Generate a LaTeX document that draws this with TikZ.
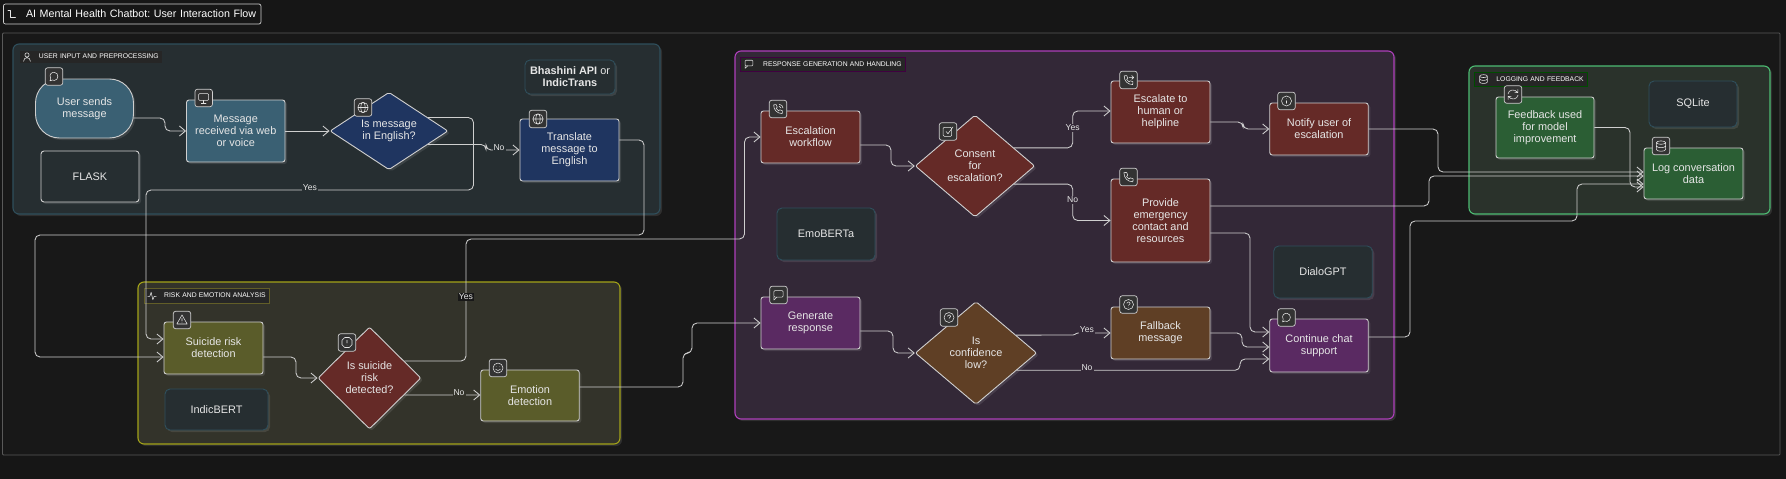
\documentclass[tikz,border=0pt]{standalone}
\usepackage{fontspec}
\setmainfont{Liberation Sans}
\usepackage{xcolor}
\usetikzlibrary{arrows.meta,shapes.geometric,shadows}
\definecolor{bgdark}{HTML}{161616}
\definecolor{framefill}{HTML}{181818}
\definecolor{txtlight}{HTML}{E6E6E6}
\definecolor{linelight}{HTML}{CFCFCF}
\definecolor{toolfill}{HTML}{262E31}
\definecolor{toolline}{HTML}{2F4F5C}
\definecolor{tealfill}{HTML}{3A6073}
\definecolor{navyfill}{HTML}{1F3560}
\definecolor{olivefill}{HTML}{5A5C2A}
\definecolor{redfill}{HTML}{652A27}
\definecolor{brownfill}{HTML}{5F3F25}
\definecolor{purplefill}{HTML}{5A2A62}
\definecolor{greenfill}{HTML}{2B5E34}
\definecolor{grpteal}{HTML}{262E31}
\definecolor{grpolive}{HTML}{33332A}
\definecolor{grppurple}{HTML}{332837}
\definecolor{grpgreen}{HTML}{2A322B}
\definecolor{lineolive}{HTML}{A3A318}
\definecolor{linepurple}{HTML}{AE3FBB}
\definecolor{linegreen}{HTML}{4DBB73}
\tikzset{softshadow/.style={drop shadow={shadow xshift=2pt,shadow yshift=-2pt,fill=white,opacity=.1}},
    grp/.style={draw=#1,line width=1.1pt,rounded corners=6pt,softshadow,inner sep=0pt},
    grplabel/.style={draw=#1,fill=black!85!white,line width=.4pt,text=white,inner sep=0pt,
        font=\fontsize{6.8}{8}\selectfont,anchor=west},
    box/.style={fill=#1,draw=linelight,line width=.9pt,rounded corners=2.5pt,softshadow,inner sep=0pt,
        text=txtlight,align=center,font=\fontsize{10.9}{12}\selectfont},
    decision/.style={box=#1,diamond,rounded corners=2pt},
    tool/.style={fill=toolfill,draw=toolline,line width=.9pt,rounded corners=5pt,softshadow,inner sep=0pt,
        text=txtlight,align=center,font=\fontsize{10.9}{12}\selectfont},
    iconbox/.style={fill=black!80!white,draw=linelight,line width=.7pt,rounded corners=2.5pt,
        minimum width=17.5pt,minimum height=17.5pt,inner sep=0pt},
    glyph/.style={draw=txtlight,line width=.55pt,line cap=round,line join=round},
    flow/.style={draw=linelight,line width=.85pt,rounded corners=5pt,-{Straight Barb[length=6pt,width=10pt]}},
    elabel/.style={text=txtlight,inner sep=1pt,font=\fontsize{8.6}{10}\selectfont},
    glchat/.pic={\draw[glyph] (-4,4.3) -- (-3.3,1.9) .. controls (-5.6,-2.4) and (-1.6,-4.6) .. (.4,-4.2)
        .. controls (5,-3.6) and (5,3.6) .. (.4,4) .. controls (-.6,4) and (-1.2,3.7) .. (-1.5,3.5) -- cycle;},
    glmsgsq/.pic={\draw[glyph,rounded corners=1pt] (-4.6,-4.4) rectangle (4.6,2.2);
        \draw[glyph] (-4.6,2) -- (-4.6,5) -- (-1.6,2.2);},
    glmonitor/.pic={\draw[glyph,rounded corners=1pt] (-5,-4.4) rectangle (5,2.4);
        \draw[glyph] (0,2.4) -- (0,4.8) (-2.4,4.8) -- (2.4,4.8);},
    glglobe/.pic={\draw[glyph] (0,0) circle[radius=5.2pt] (0,0) ellipse[x radius=2.3pt,y radius=5.2pt] (-5.2,0) -- (5.2,0);},
    glwarn/.pic={\draw[glyph] (0,-5) -- (5.2,4) -- (-5.2,4) -- cycle (0,-1.6) -- (0,1) (0,2.6) -- (0,2.7);},
    gloct/.pic={\draw[glyph] (-2.2,-5) -- (2.2,-5) -- (5,-2.2) -- (5,2.2) -- (2.2,5) -- (-2.2,5) -- (-5,2.2) -- (-5,-2.2) -- cycle
        (0,-2.4) -- (0,.6) (0,2.6) -- (0,2.7);},
    glsmile/.pic={\draw[glyph] (0,0) circle[radius=5pt] (-1.8,-1.4) -- (-1.8,-1.3) (1.8,-1.4) -- (1.8,-1.3)
        (-2.4,1.2) .. controls (-1,3) and (1,3) .. (2.4,1.2);},
    glphone/.pic={\draw[glyph] (-4.6,-4.4) .. controls (-4.6,1) and (-1,4.8) .. (4.4,4.8) -- (4.6,1.8) -- (1.8,.8)
        -- (.6,2) .. controls (-.6,1.4) and (-1.4,.6) .. (-2,-.6) -- (-.8,-1.8) -- (-1.8,-4.6) -- cycle;},
    glphonein/.pic={\pic[scale=.95] {glphone}; \draw[glyph] (1,-4.8) .. controls (3.4,-4.6) and (4.8,-3) .. (5,-1)
        (1,-2.8) .. controls (2.2,-2.6) and (2.9,-2) .. (3,-1);},
    glphoneout/.pic={\pic[scale=.95] {glphone}; \draw[glyph] (.6,-2.6) -- (5,-2.6) (3.2,-4.6) -- (5.2,-2.6) -- (3.2,-.6);},
    glcheck/.pic={\draw[glyph,rounded corners=1pt] (-4.8,-4.2) rectangle (3.6,4.8);
        \draw[glyph] (-2,0) -- (0,2.2) -- (5,-4.6);},
    glinfo/.pic={\draw[glyph] (0,0) circle[radius=5pt] (0,-.4) -- (0,2.4) (0,-2.4) -- (0,-2.3);},
    glhelp/.pic={\draw[glyph] (0,0) circle[radius=5pt] (-1.6,-1.4) .. controls (-1.4,-3.2) and (1.8,-3.2) .. (1.7,-1.2)
        .. controls (1.6,-.2) and (0,0) .. (0,1) (0,2.6) -- (0,2.7);},
    glsync/.pic={\draw[glyph] (-5,-.6) .. controls (-4.4,-5) and (1.8,-6) .. (4.6,-2) (4.8,-5) -- (4.8,-1.8) -- (1.8,-1.8)
        (5,.6) .. controls (4.4,5) and (-1.8,6) .. (-4.6,2) (-4.8,5) -- (-4.8,1.8) -- (-1.8,1.8);},
    gldb/.pic={\draw[glyph] (0,-3.4) ellipse[x radius=4.6pt,y radius=1.7pt] (-4.6,-3.4) -- (-4.6,3.6)
        .. controls (-4,5.8) and (4,5.8) .. (4.6,3.6) -- (4.6,-3.4) (-4.6,0) .. controls (-4,2.2) and (4,2.2) .. (4.6,0);},
    gluser/.pic={\draw[glyph] (0,-2.4) circle[radius=2.5pt] (-4,5) .. controls (-4,-.6) and (4,-.6) .. (4,5);},
    glpulse/.pic={\draw[glyph] (-5,.4) -- (-2.6,.4) -- (-1,-4.4) -- (1,4.4) -- (2.6,.4) -- (5,.4);},
    glroute/.pic={\draw[glyph,line width=.7pt] (-4.5,-3.4) -- (-2,-3.4) -- (-2,3.6) -- (3,3.6);}}
\begin{document}
\frenchspacing
\begin{tikzpicture}[x=1pt,y=-1pt]
\useasboundingbox (0,0) rectangle (1786,479);
\fill[bgdark] (0,0) rectangle (1786,479);
\node[draw=black!65!white,fill=framefill,line width=.8pt,rounded corners=1pt,minimum width=1777.5pt,minimum height=422pt] (frame) at (891.3,244) {};
\node[draw=linelight,fill=bgdark,line width=.7pt,rounded corners=2pt,minimum width=257.5pt,minimum height=20pt,
    text=white,inner sep=0pt,font=\fontsize{10.7}{12}\selectfont,text width=250pt,align=right] (title) at (132.2,14) {AI Mental Health Chatbot: User Interaction Flow\hspace*{1pt}};
\pic at (12.5,14) {glroute};
\node[grp=toolline,fill=grpteal,minimum width=647pt,minimum height=170pt] (grpinput) at (336.5,129) {};
\node[grp=lineolive,fill=grpolive,minimum width=482pt,minimum height=162pt] (grprisk) at (379,363) {};
\node[grp=linepurple,fill=grppurple,minimum width=659pt,minimum height=368pt] (grpresp) at (1064.5,235) {};
\node[grp=linegreen,fill=grpgreen,minimum width=301pt,minimum height=148pt] (grplog) at (1619.5,140) {};
\node[grplabel=grpteal,minimum width=143pt,minimum height=13pt,align=right,text width=140pt] (lblinput) at (19,56.5) {USER INPUT AND PREPROCESSING\hspace*{2pt}};
\node[grplabel=olive!60!black,minimum width=125pt,minimum height=15pt,align=right,text width=122pt] (lblrisk) at (144,295.5) {RISK AND EMOTION ANALYSIS\hspace*{2pt}};
\node[grplabel=violet!50!black,minimum width=165pt,minimum height=14pt,align=right,text width=162pt] (lblresp) at (740,64) {RESPONSE GENERATION AND HANDLING\hspace*{2pt}};
\node[grplabel=green!30!black,minimum width=113pt,minimum height=14pt,align=right,text width=110pt] (lbllog) at (1474,79) {LOGGING AND FEEDBACK\hspace*{2pt}};
\node[box=tealfill,rounded corners=24pt,minimum width=98pt,minimum height=59pt] (usersends) at (84.5,108.5) {User sends\\message};
\node[box=tealfill,minimum width=98.5pt,minimum height=62pt] (msgrecv) at (235.75,131) {Message\\received via web\\or voice};
\node[decision=navyfill,minimum width=118pt,minimum height=74pt] (isenglish) at (389,131) {Is message\\in English?};
\node[box=navyfill,minimum width=99pt,minimum height=62pt] (translate) at (569.5,150) {Translate\\message to\\English};
\node[tool,minimum width=90pt,minimum height=34pt] (bhashini) at (570,77) {\textbf{Bhashini API} or\\\textbf{IndicTrans}};
\node[tool,draw=linelight,rounded corners=3pt,minimum width=98pt,minimum height=51pt] (flask) at (90,176.5) {FLASK};
\node[box=olivefill,minimum width=99pt,minimum height=52pt] (suicide) at (213.5,348) {Suicide risk\\detection};
\node[decision=redfill,minimum width=103pt,minimum height=102pt] (issuicide) at (369.5,378) {Is suicide\\risk\\detected?};
\node[box=olivefill,minimum width=98.5pt,minimum height=51pt] (emotion) at (530,395.5) {Emotion\\detection};
\node[tool,minimum width=103pt,minimum height=41pt] (indicbert) at (216.5,409.5) {IndicBERT};
\node[box=redfill,minimum width=99pt,minimum height=52pt] (escalation) at (810.5,137) {Escalation\\workflow};
\node[decision=redfill,minimum width=119.5pt,minimum height=102pt] (consent) at (975,166) {Consent\\for\\escalation?};
\node[box=redfill,minimum width=99pt,minimum height=62pt] (escalate) at (1160.5,112) {Escalate to\\human or\\helpline};
\node[box=redfill,minimum width=98.5pt,minimum height=52pt] (notify) at (1319,129) {Notify user of\\escalation};
\node[box=redfill,minimum width=99pt,minimum height=83pt] (provide) at (1160.5,220.5) {Provide\\emergency\\contact and\\resources};
\node[tool,minimum width=98pt,minimum height=52pt] (emoberta) at (826,234) {EmoBERTa};
\node[tool,minimum width=98.5pt,minimum height=52pt] (dialogpt) at (1323,272) {DialoGPT};
\node[box=purplefill,minimum width=99pt,minimum height=52pt] (generate) at (810.5,323) {Generate\\response};
\node[decision=brownfill,minimum width=121.5pt,minimum height=103pt] (isconf) at (976,353) {Is\\confidence\\low?};
\node[box=brownfill,minimum width=99pt,minimum height=52pt] (fallback) at (1160.5,333) {Fallback\\message};
\node[box=purplefill,minimum width=98.5pt,minimum height=53pt] (contchat) at (1319,345.5) {Continue chat\\support};
\node[box=greenfill,minimum width=98pt,minimum height=61pt] (feedback) at (1545,127.5) {Feedback used\\for model\\improvement};
\node[tool,minimum width=88pt,minimum height=46pt] (sqlite) at (1693,104) {SQLite};
\node[box=greenfill,minimum width=99pt,minimum height=51pt] (logdata) at (1693.5,173.5) {Log conversation\\data};
\foreach \n/\x/\y/\gl in {a/54/76.5/glchat,b/203.7/98/glmonitor,c/363/107.5/glglobe,d/538/119/glglobe,
    e/182/320/glwarn,f/347/342.5/gloct,g/498/368/glsmile,h/778/109/glphonein,i/948/131.5/glcheck,
    j/1128.5/80/glphoneout,k/1286.5/101/glinfo,l/1128.5/177/glphone,m/778.5/295/glmsgsq,n/949/317.5/glhelp,
    o/1128.5/304.5/glhelp,p/1286.5/317.5/glchat,q/1513/94.5/glsync,r/1661/146/gldb}{
    \node[iconbox,name=icon\n] at (\x,\y) {};
    \pic at (\x,\y) {\gl};
}
\pic[scale=.85] at (27,57) {gluser};
\pic[scale=.85] at (152,296) {glpulse};
\pic[scale=.85] at (749,64) {glmsgsq};
\pic[scale=.85] at (1483.5,79) {gldb};
\draw[flow] (usersends.east |- 0,118) -| (165,131) -- (msgrecv.west);
\draw[flow] (msgrecv) -- (isenglish);
\draw[flow] (isenglish.19) -| (473.5,190) -| (146,339) -- (suicide.west |- 0,339);
\draw[flow] (isenglish.-19) -| (486,150) -- (translate.west);
\draw[flow] (translate.east |- 0,140) -| (644,235) -| (35,357) -- (suicide.west |- 0,357);
\draw[flow] (suicide.east |- 0,357) -| (296,378) -- (issuicide.west);
\draw[flow] (issuicide.26) -| (466,239) -| (744.5,137) -- (escalation.west);
\draw[flow] (issuicide.-26) -- (emotion.west |- 0,395);
\draw[flow] (emotion.east |- 0,387) -| (683,353) -| (692,323) -- (generate.west);
\draw[flow] (escalation.east |- 0,145) -| (891,166) -- (consent.west);
\draw[flow] (consent.25) -| (1072.7,111) -- (escalate.west |- 0,111);
\draw[flow] (consent.-25) -| (1072.7,220.5) -- (provide.west);
\draw[flow] (escalate.east |- 0,122) -| (1243,129) -- (notify.west);
\draw[flow] (notify.east) -| (1438,172) -- (logdata.west |- 0,172);
\draw[flow] (provide.east |- 0,206) -| (1429,176) -- (logdata.west |- 0,176);
\draw[flow] (provide.east |- 0,233) -| (1250,332) -- (contchat.west |- 0,332);
\draw[flow] (generate.east |- 0,331) -| (893,353) -- (isconf.west);
\draw[flow,rounded corners=1pt] (isconf.24.5) -- (1074,335) -- (1077,333) -- (fallback.west);
\draw[flow] (isconf.-23) -| (1240,359) -- (contchat.west |- 0,359);
\draw[flow] (fallback.east) -| (1242,347) -- (contchat.west |- 0,347);
\draw[flow] (contchat.east |- 0,337) -| (1410,221) -| (1577,184) -- (logdata.west |- 0,184);
\draw[flow] (feedback.east) -| (1630,187) -- (logdata.west |- 0,187);
\node[elabel,fill=grpteal] (yesa) at (310,188) {Yes};
\node[elabel,fill=grpteal] (noa) at (499,148) {No};
\node[elabel,fill=framefill] (yesb) at (466,297) {Yes};
\node[elabel,fill=grpolive] (nob) at (459,393) {No};
\node[elabel,fill=grppurple] (yesc) at (1072.7,128) {Yes};
\node[elabel,fill=grppurple] (noc) at (1072.7,200) {No};
\node[elabel,fill=grppurple] (yesd) at (1087,329.5) {Yes};
\node[elabel,fill=grppurple] (nod) at (1087,368) {No};
\end{tikzpicture}
\end{document}
